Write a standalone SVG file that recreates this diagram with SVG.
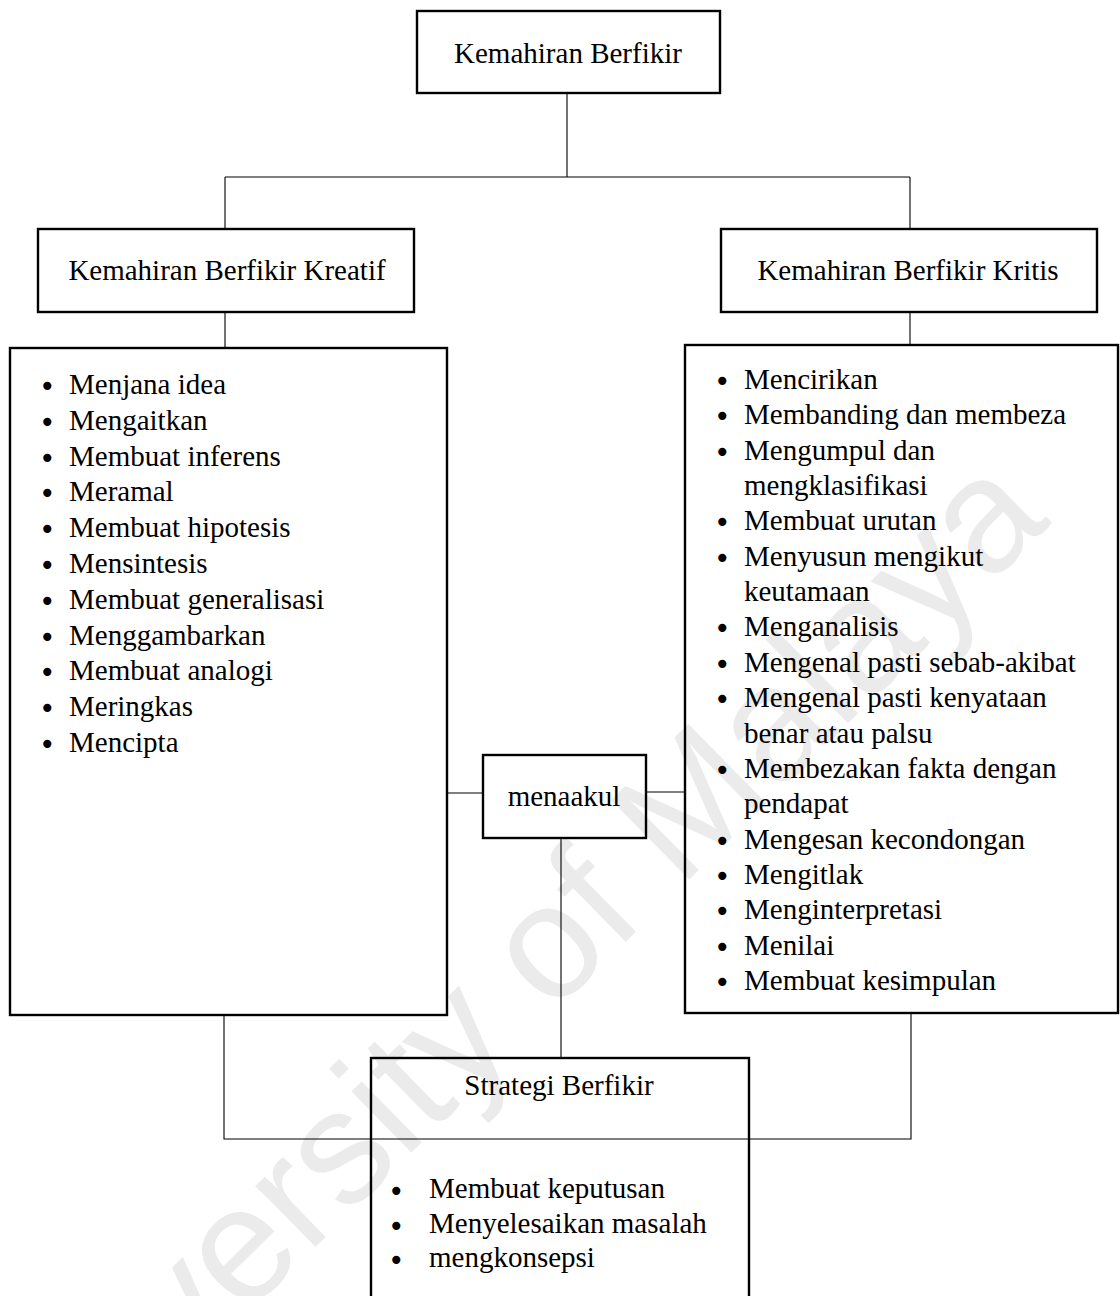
<svg xmlns="http://www.w3.org/2000/svg" width="1120" height="1296" viewBox="0 0 1120 1296">
<style>
.box{fill:none;stroke:#000;stroke-width:2.4}
.ln{fill:none;stroke:#000;stroke-width:1.1}
.t{font-family:"Liberation Serif","Times New Roman",serif;font-size:29px;fill:#000}
.c{text-anchor:middle}
.b{font-family:"DejaVu Sans",sans-serif;font-size:28px;fill:#000}
.wm{font-family:"Liberation Sans",Arial,sans-serif;font-size:162px;fill:#ebebeb}
</style>
<rect width="1120" height="1296" fill="#fff"/>
<text class="wm" transform="translate(12,1545) rotate(-44.5)">University of Malaya</text>
<g id="connectors">
<path class="ln" d="M567 93V177M225 177H910M225 177V229M910 177V229"/>
<path class="ln" d="M225 312V348M910 312V345"/>
<path class="ln" d="M447 793H483M646 792H685M561 838V1058"/>
<path class="ln" d="M224 1015V1139H911V1013"/>
</g>
<g id="kemahiran-berfikir">
<rect class="box" x="417" y="11" width="303" height="82"/>
<text class="t c" x="568" y="63">Kemahiran Berfikir</text>
</g>
<g id="kreatif">
<rect class="box" x="38" y="229" width="376" height="83"/>
<text class="t c" x="227" y="280">Kemahiran Berfikir Kreatif</text>
</g>
<g id="kritis">
<rect class="box" x="721" y="229" width="376" height="83"/>
<text class="t c" x="908" y="280">Kemahiran Berfikir Kritis</text>
</g>
<g id="kreatif-list">
<rect class="box" x="10" y="348" width="437" height="667"/>
<g class="b">
<text x="39" y="396">•</text><text x="39" y="432">•</text><text x="39" y="468">•</text>
<text x="39" y="503">•</text><text x="39" y="539">•</text><text x="39" y="575">•</text>
<text x="39" y="611">•</text><text x="39" y="647">•</text><text x="39" y="682">•</text>
<text x="39" y="718">•</text><text x="39" y="754">•</text>
</g>
<g class="t">
<text x="69" y="394">Menjana idea</text>
<text x="69" y="430">Mengaitkan</text>
<text x="69" y="466">Membuat inferens</text>
<text x="69" y="501">Meramal</text>
<text x="69" y="537">Membuat hipotesis</text>
<text x="69" y="573">Mensintesis</text>
<text x="69" y="609">Membuat generalisasi</text>
<text x="69" y="645">Menggambarkan</text>
<text x="69" y="680">Membuat analogi</text>
<text x="69" y="716">Meringkas</text>
<text x="69" y="752">Mencipta</text>
</g>
</g>
<g id="kritis-list">
<rect class="box" x="685" y="345" width="433" height="668"/>
<g class="b">
<text x="714" y="391">•</text><text x="714" y="426">•</text><text x="714" y="462">•</text>
<text x="714" y="532">•</text><text x="714" y="568">•</text><text x="714" y="638">•</text>
<text x="714" y="674">•</text><text x="714" y="709">•</text><text x="714" y="780">•</text>
<text x="714" y="851">•</text><text x="714" y="886">•</text><text x="714" y="921">•</text>
<text x="714" y="957">•</text><text x="714" y="992">•</text>
</g>
<g class="t">
<text x="744" y="389">Mencirikan</text>
<text x="744" y="424">Membanding dan membeza</text>
<text x="744" y="460">Mengumpul dan</text>
<text x="744" y="495">mengklasifikasi</text>
<text x="744" y="530">Membuat urutan</text>
<text x="744" y="566">Menyusun mengikut</text>
<text x="744" y="601">keutamaan</text>
<text x="744" y="636">Menganalisis</text>
<text x="744" y="672">Mengenal pasti sebab-akibat</text>
<text x="744" y="707">Mengenal pasti kenyataan</text>
<text x="744" y="743">benar atau palsu</text>
<text x="744" y="778">Membezakan fakta dengan</text>
<text x="744" y="813">pendapat</text>
<text x="744" y="849">Mengesan kecondongan</text>
<text x="744" y="884">Mengitlak</text>
<text x="744" y="919">Menginterpretasi</text>
<text x="744" y="955">Menilai</text>
<text x="744" y="990">Membuat kesimpulan</text>
</g>
</g>
<g id="menaakul">
<rect class="box" x="483" y="755" width="163" height="83"/>
<text class="t c" x="564" y="806">menaakul</text>
</g>
<g id="strategi">
<rect class="box" x="371" y="1058" width="378" height="250"/>
<text class="t c" x="559" y="1095">Strategi Berfikir</text>
<g class="b">
<text x="388" y="1201">•</text><text x="388" y="1236">•</text><text x="388" y="1270">•</text>
</g>
<g class="t">
<text x="429" y="1198">Membuat keputusan</text>
<text x="429" y="1233">Menyelesaikan masalah</text>
<text x="429" y="1267">mengkonsepsi</text>
</g>
</g>
</svg>
